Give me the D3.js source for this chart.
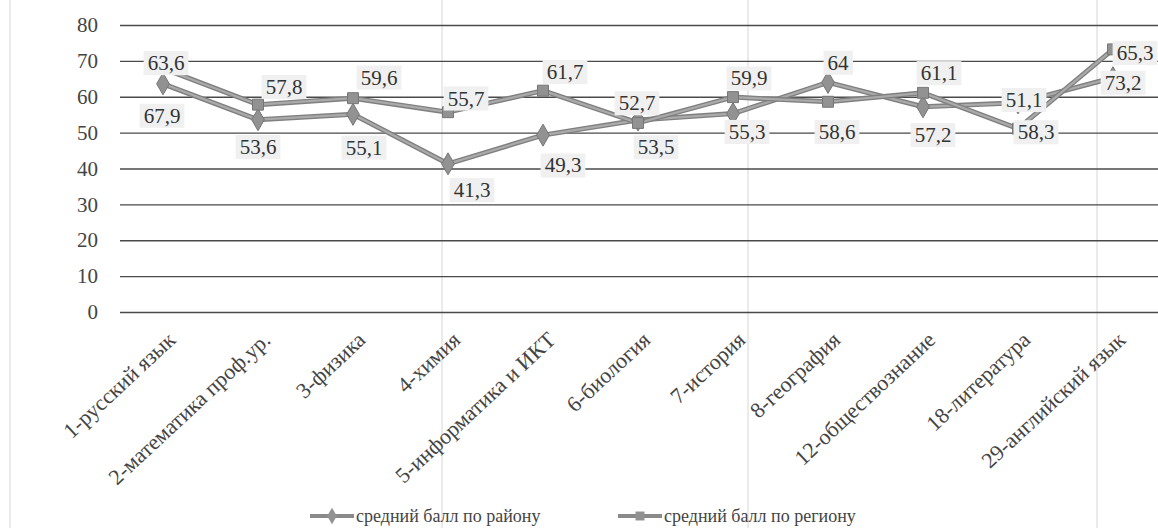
<!DOCTYPE html>
<html>
<head>
<meta charset="utf-8">
<script src="https://cdn.jsdelivr.net/npm/d3@7"></script>
<style>
  html, body { margin: 0; padding: 0; background: #fff; }
  svg { display: block; }
  svg text { font-family: "Liberation Serif", "Times New Roman", "DejaVu Serif", serif; }
</style>
</head>
<body>
<svg id="chart" width="1158" height="528"></svg>
<script>
// Subjects (exam codes) along the x axis
const categories = [
  "1-русский язык", "2-математика проф.ур.", "3-физика", "4-химия",
  "5-информатика и ИКТ", "6-биология", "7-история", "8-география",
  "12-обществознание", "18-литература", "29-английский язык"
];
// Average score in the district
const districtScores = [63.6, 53.6, 55.1, 41.3, 49.3, 53.5, 55.3, 64, 57.2, 58.3, 65.3];
// Average score in the region
const regionScores = [67.9, 57.8, 59.6, 55.7, 61.7, 52.7, 59.9, 58.6, 61.1, 51.1, 73.2];
const yTicks = [0, 10, 20, 30, 40, 50, 60, 70, 80];
const seriesNames = ["средний балл по району", "средний балл по региону"];

// Hand-placed label offsets [dx, dy] from each marker
const districtLabelShift = [[3,-21],[0,27],[11,33],[24,26],[20,30],[18,27],[14,18],[10,-20],[10,28],[18,29],[22,-25]];
const regionLabelShift = [[-1,47],[26,-18],[26,-21],[18,-14],[22,-19],[-1,-20],[16,-19],[9,30],[16,-20],[6,-29],[10,33]];

const svg = d3.select("#chart");
const FONT = "'Liberation Serif', 'Times New Roman', 'DejaVu Serif', serif";

const x = d3.scalePoint().domain(categories).range([163, 1113]);
const y = d3.scaleLinear().domain([0, 80]).range([312, 25]);

// faint table borders behind the chart
const faint = svg.append("g").attr("stroke", "#d6d6d6").attr("stroke-width", 1);
[10, 442, 748, 1097].forEach(px => {
  faint.append("line").attr("x1", px).attr("x2", px).attr("y1", 0).attr("y2", 528);
});

// horizontal gridlines + y tick labels
const yAxis = d3.axisLeft(y).tickValues(yTicks).tickSize(-(1158 - 120)).tickPadding(22);
const gy = svg.append("g").attr("transform", "translate(120,0)").call(yAxis);
gy.attr("font-family", null);
gy.select(".domain").remove();
gy.selectAll(".tick line").attr("stroke", "#4a4a4a").attr("stroke-width", 1.4);
gy.selectAll(".tick text")
  .style("font-family", FONT).attr("font-size", 21).attr("fill", "#444");

// category labels, rotated
const xAxis = d3.axisBottom(x).tickSize(0).tickPadding(0);
const gx = svg.append("g").attr("transform", "translate(0,336)").call(xAxis);
gx.attr("font-family", null);
gx.select(".domain").remove();
gx.selectAll(".tick text")
  .style("font-family", FONT).attr("font-size", 22).attr("fill", "#444")
  .attr("text-anchor", "end")
  .attr("dy", "0.35em")
  .attr("y", 0)
  .attr("transform", "translate(8,0) rotate(-43)");

// series lines
const line = d3.line().x((d, i) => x(categories[i])).y(d => y(d));
const series = [
  { values: districtScores, shape: d3.symbolDiamond, shift: districtLabelShift },
  { values: regionScores, shape: d3.symbolSquare, shift: regionLabelShift }
];

series.forEach(s => {
  svg.append("path").datum(s.values).attr("d", line)
    .attr("fill", "none").attr("stroke", "#808080").attr("stroke-width", 5)
    .attr("stroke-linejoin", "round");
  svg.append("path").datum(s.values).attr("d", line)
    .attr("fill", "none").attr("stroke", "#aaaaaa").attr("stroke-width", 2.2)
    .attr("stroke-linejoin", "round");
});

series.forEach(s => {
  const sym = d3.symbol().type(s.shape).size(s.shape === d3.symbolSquare ? 120 : 140);
  svg.append("g").selectAll("path").data(s.values).join("path")
    .attr("d", sym)
    .attr("transform", (d, i) => `translate(${x(categories[i])},${y(d)})`)
    .attr("fill", "#929292").attr("stroke", "#767676").attr("stroke-width", 1);
});

// data labels with opaque backgrounds
const labelFmt = v => String(v).replace(".", ",");
series.forEach(s => {
  const g = svg.append("g");
  s.values.forEach((v, i) => {
    const cx = x(categories[i]) + s.shift[i][0];
    const cy = y(v) + s.shift[i][1];
    const lg = g.append("g");
    const t = lg.append("text")
      .attr("x", cx).attr("y", cy).attr("dy", "0.35em")
      .attr("text-anchor", "middle")
      .style("font-family", FONT).attr("font-size", 21).attr("fill", "#333")
      .text(labelFmt(v));
    const bb = t.node().getBBox();
    lg.insert("rect", "text")
      .attr("x", bb.x - 4).attr("y", bb.y)
      .attr("width", bb.width + 8).attr("height", bb.height)
      .attr("fill", "#f0f0f0");
  });
});

// legend
const legend = svg.append("g").attr("transform", "translate(0,516)");
const legendItems = [
  { name: seriesNames[0], shape: d3.symbolDiamond, x: 310 },
  { name: seriesNames[1], shape: d3.symbolSquare, x: 618 }
];
legendItems.forEach(it => {
  const g = legend.append("g").attr("transform", `translate(${it.x},0)`);
  g.append("line").attr("x1", 0).attr("x2", 44).attr("y1", 0).attr("y2", 0)
    .attr("stroke", "#8a8a8a").attr("stroke-width", 4);
  g.append("path").attr("d", d3.symbol().type(it.shape).size(80)())
    .attr("transform", "translate(22,0)").attr("fill", "#929292");
  g.append("text").attr("x", 46).attr("y", 0).attr("dy", "0.35em")
    .style("font-family", FONT).attr("font-size", 18).attr("fill", "#444")
    .text(it.name);
});
</script>
</body>
</html>
